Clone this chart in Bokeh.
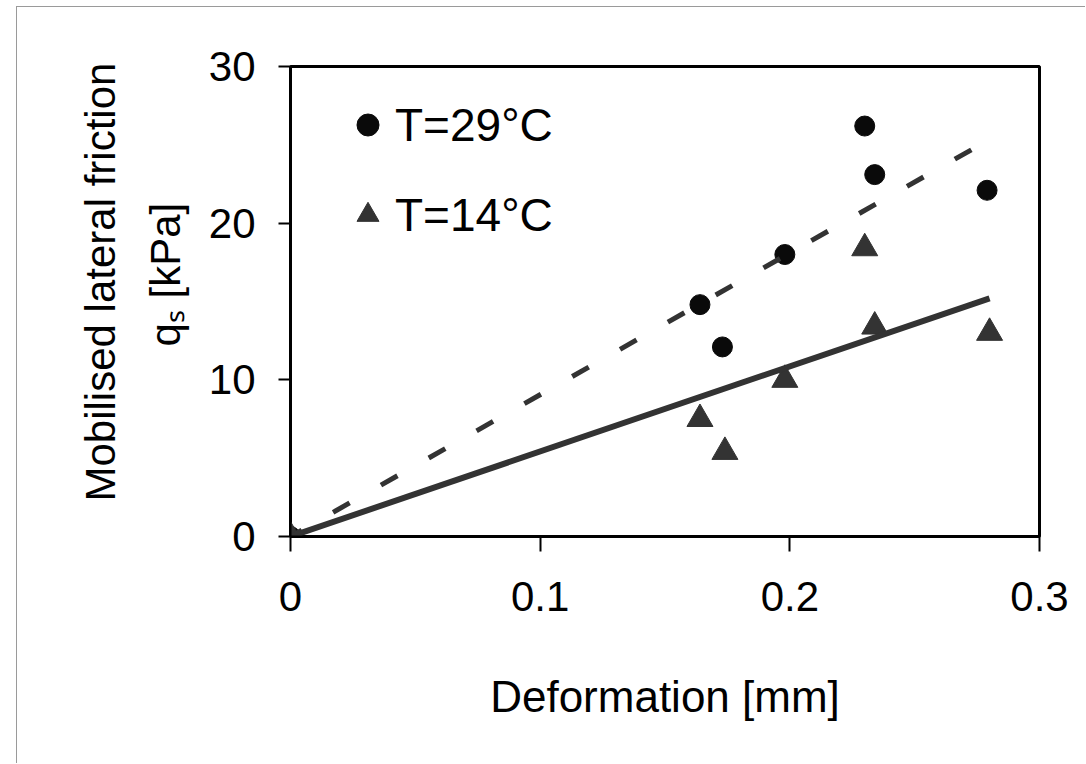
from bokeh.plotting import figure
from bokeh.models import Range1d, FixedTicker, NumeralTickFormatter, Title, Legend, LegendItem
from bokeh.embed import file_html
from bokeh.resources import INLINE

# ---- data ----
deformation_29 = [0.0, 0.164, 0.173, 0.198, 0.230, 0.234, 0.279]
friction_29 = [0.0, 14.8, 12.1, 18.0, 26.2, 23.1, 22.1]
deformation_14 = [0.0, 0.164, 0.174, 0.198, 0.230, 0.234, 0.280]
friction_14 = [0.0, 7.5, 5.4, 10.0, 18.4, 13.4, 13.0]
trend_x_29 = [0.0, 0.274]
trend_y_29 = [0.0, 24.8]
trend_x_14 = [0.0, 0.280]
trend_y_14 = [0.0, 15.2]
x_ticks = [0, 0.1, 0.2, 0.3]
y_ticks = [0, 10, 20, 30]
series_labels = ["T=29°C", "T=14°C"]
x_title = "Deformation [mm]"
y_title_1 = "Mobilised lateral friction"
y_title_2 = "q\u209b [kPa]"

FONT = "Liberation Sans"

p = figure(width=1069, height=757, output_backend="svg", toolbar_location=None,
           x_range=Range1d(0, 0.3), y_range=Range1d(0, 30))
p.styles = {"margin-left": "16px", "margin-top": "6px",
            "border-left": "1px solid #9a9a9a", "border-top": "1px solid #9a9a9a"}
p.min_border_left = 273
p.min_border_right = 47
p.min_border_top = 59
p.min_border_bottom = 228
p.background_fill_color = "white"
p.border_fill_color = "white"
p.outline_line_color = "black"
p.outline_line_width = 3
p.xgrid.visible = False
p.ygrid.visible = False

for ax in (p.xaxis[0], p.yaxis[0]):
    ax.axis_line_color = "black"
    ax.axis_line_width = 2
    ax.major_tick_line_color = "black"
    ax.major_tick_line_width = 2
    ax.major_tick_in = 0
    ax.minor_tick_line_color = None
    ax.major_label_text_font = FONT
    ax.major_label_text_font_size = "42px"
    ax.major_label_text_color = "black"

p.xaxis.ticker = FixedTicker(ticks=x_ticks)
p.yaxis.ticker = FixedTicker(ticks=y_ticks)
p.xaxis.formatter = NumeralTickFormatter(format="0.[0]")
p.yaxis.formatter = NumeralTickFormatter(format="0")
p.xaxis.major_tick_out = 15
p.yaxis.major_tick_out = 12
p.xaxis.major_label_standoff = 30
p.yaxis.major_label_standoff = 23

p.xaxis.axis_label = x_title
p.xaxis.axis_label_text_font = FONT
p.xaxis.axis_label_text_font_size = "44px"
p.xaxis.axis_label_text_font_style = "normal"
p.xaxis.axis_label_text_color = "black"
p.xaxis.axis_label_standoff = 58

r29 = p.scatter(deformation_29, friction_29, marker="circle", size=20,
                fill_color="#0a0a0a", line_color="#0a0a0a")
r14 = p.scatter(deformation_14, friction_14, marker="triangle", size=26,
                fill_color="#333333", line_color="#333333")
p.line(trend_x_29, trend_y_29, line_color="#333333", line_width=5,
       line_dash="19 36", line_dash_offset=6, line_cap="butt")
p.line(trend_x_14, trend_y_14, line_color="#333333", line_width=6)

legend = Legend(items=[LegendItem(label=series_labels[0], renderers=[r29]),
                       LegendItem(label=series_labels[1], renderers=[r14])],
                location=(50, 294), glyph_width=55, glyph_height=55,
                label_text_font=FONT, label_text_font_size="46px",
                label_text_color="black", label_standoff=-2, spacing=35,
                padding=0, margin=0, border_line_color=None,
                background_fill_alpha=0)
p.add_layout(legend, "center")

t2 = Title(text=y_title_2, align="left", offset=190, standoff=33,
           text_font=FONT, text_font_size="42px", text_font_style="normal",
           text_color="black")
t1 = Title(text=y_title_1, align="left", offset=35, standoff=0,
           text_font=FONT, text_font_size="42px", text_font_style="normal",
           text_color="black")
p.add_layout(t2, "left")
p.add_layout(t1, "left")

open("out.html", "w").write(file_html(p, INLINE))
